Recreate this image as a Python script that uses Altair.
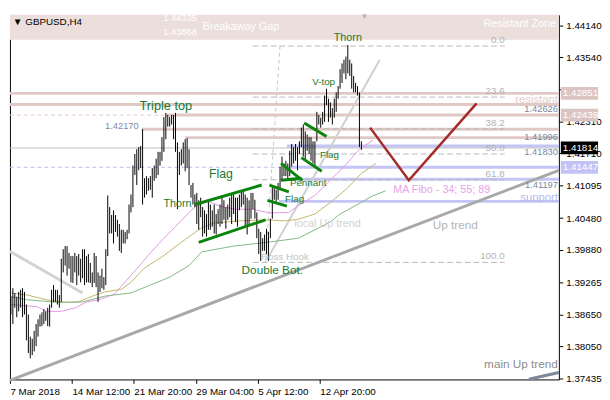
import altair as alt
import pandas as pd

W, H = 560, 372
FONT = "Liberation Sans"

# ---------------- data ----------------
bar_high = [
    1.3899, 1.3915, 1.3906, 1.3899, 1.3908, 1.3912, 1.3915, 1.3908, 1.3884, 1.3865,
    1.3823, 1.3819, 1.3834, 1.3847, 1.3856, 1.3865, 1.3869, 1.3875, 1.3871, 1.3878,
    1.3884, 1.3912, 1.3921, 1.3912, 1.3912, 1.3902, 1.3971, 1.3989, 1.3995, 1.3995,
    1.3982, 1.3976, 1.3976, 1.3982, 1.3976, 1.3980, 1.3971, 1.3989, 1.3989, 1.3976,
    1.3980, 1.3963, 1.3945, 1.3982, 1.3976, 1.3945, 1.3939, 1.3952, 1.3936, 1.3989,
    1.4091, 1.4069, 1.4054, 1.4063, 1.4054, 1.4045, 1.4037, 1.4026, 1.4026, 1.4022,
    1.4026, 1.4074, 1.4093, 1.4148, 1.4170, 1.4179, 1.4183, 1.4185, 1.4217, 1.4124,
    1.4128, 1.4124, 1.4128, 1.4143, 1.4148, 1.4161, 1.4174, 1.4174, 1.4202, 1.4240,
    1.4248, 1.4244, 1.4240, 1.4244, 1.4244, 1.4248, 1.4192, 1.4174, 1.4179, 1.4192,
    1.4198, 1.4200, 1.4179, 1.4111, 1.4115, 1.4093, 1.4096, 1.4082, 1.4087, 1.4069,
    1.4063, 1.4056, 1.4082, 1.4074, 1.4063, 1.4074, 1.4056, 1.4065, 1.4074, 1.4087,
    1.4082, 1.4069, 1.4074, 1.4087, 1.4093, 1.4093, 1.4087, 1.4087, 1.4093, 1.4100,
    1.4100, 1.4093, 1.4087, 1.4082, 1.4096, 1.4096, 1.4083, 1.4059, 1.4028, 1.4022,
    1.4010, 1.4017, 1.4028, 1.4022, 1.4047, 1.4109, 1.4109, 1.4102, 1.4115, 1.4146,
    1.4165, 1.4152, 1.4157, 1.4152, 1.4176, 1.4189, 1.4183, 1.4189, 1.4183, 1.4194,
    1.4220, 1.4226, 1.4213, 1.4207, 1.4202, 1.4202, 1.4194, 1.4194, 1.4250, 1.4244,
    1.4239, 1.4250, 1.4281, 1.4294, 1.4275, 1.4268, 1.4257, 1.4275, 1.4287, 1.4299,
    1.4331, 1.4342, 1.4349, 1.4355, 1.4377, 1.4349, 1.4342, 1.4318, 1.4305, 1.4299,
    1.4287, 1.4194,
]
bar_low = [
    1.3865, 1.3847, 1.3878, 1.3860, 1.3871, 1.3878, 1.3860, 1.3865, 1.3816, 1.3792,
    1.3782, 1.3788, 1.3795, 1.3805, 1.3823, 1.3842, 1.3843, 1.3847, 1.3853, 1.3843,
    1.3842, 1.3878, 1.3888, 1.3889, 1.3884, 1.3878, 1.3889, 1.3945, 1.3958, 1.3939,
    1.3952, 1.3926, 1.3925, 1.3945, 1.3921, 1.3939, 1.3926, 1.3934, 1.3921, 1.3926,
    1.3926, 1.3925, 1.3917, 1.3925, 1.3917, 1.3889, 1.3908, 1.3915, 1.3912, 1.3921,
    1.3976, 1.4019, 1.4019, 1.4000, 1.4022, 1.4013, 1.3986, 1.3982, 1.4000, 1.4000,
    1.4008, 1.4019, 1.4059, 1.4069, 1.4130, 1.4111, 1.4139, 1.4143, 1.4074, 1.4087,
    1.4093, 1.4100, 1.4102, 1.4087, 1.4119, 1.4124, 1.4130, 1.4148, 1.4157, 1.4174,
    1.4198, 1.4222, 1.4222, 1.4226, 1.4198, 1.4174, 1.4065, 1.4130, 1.4148, 1.4152,
    1.4137, 1.4143, 1.4111, 1.4087, 1.4074, 1.4069, 1.4037, 1.4026, 1.4050, 1.4013,
    1.4019, 1.4013, 1.4026, 1.4026, 1.4032, 1.4019, 1.4017, 1.4037, 1.4032, 1.4037,
    1.4045, 1.4028, 1.4045, 1.4050, 1.4037, 1.4056, 1.4041, 1.4032, 1.4063, 1.4069,
    1.4074, 1.4032, 1.4017, 1.4037, 1.4047, 1.4065, 1.4047, 1.4010, 1.3980, 1.3967,
    1.3986, 1.3986, 1.3980, 1.3967, 1.4010, 1.4047, 1.4083, 1.4078, 1.4083, 1.4102,
    1.4120, 1.4128, 1.4128, 1.4120, 1.4128, 1.4146, 1.4152, 1.4157, 1.4139, 1.4170,
    1.4183, 1.4165, 1.4157, 1.4176, 1.4170, 1.4157, 1.4152, 1.4146, 1.4194, 1.4226,
    1.4220, 1.4226, 1.4231, 1.4263, 1.4231, 1.4239, 1.4226, 1.4239, 1.4250, 1.4275,
    1.4294, 1.4305, 1.4323, 1.4312, 1.4323, 1.4318, 1.4294, 1.4287, 1.4287, 1.4281,
    1.4183, 1.4178,
]

# moving averages (bar index, price)
ma34_x = [0, 13.5, 18.5, 26, 33.5, 38.5, 47, 53.5, 58.5, 65, 72, 78.5, 85, 92, 96, 102,
          108.5, 116, 125, 133.5, 143.5, 151, 157, 163.5, 172, 180, 187]
ma34_y = [1.3884, 1.3880, 1.3871, 1.3871, 1.3878, 1.3888, 1.3895, 1.3904, 1.3925, 1.3952,
          1.3982, 1.4008, 1.4032, 1.4059, 1.4072, 1.4080, 1.4070, 1.4065, 1.4065, 1.4058,
          1.4059, 1.4078, 1.4091, 1.4115, 1.4146, 1.4179, 1.4196]
ma55_x = [0, 8.5, 18.5, 28.5, 35, 42, 48.5, 57, 62, 68.5, 78.5, 92, 98.5, 105, 118.5,
          132, 141, 148.5, 157, 165, 173.5, 181, 188.5]
ma55_y = [1.3906, 1.3902, 1.3893, 1.3888, 1.3889, 1.3900, 1.3908, 1.3913, 1.3926, 1.3952,
          1.3976, 1.4013, 1.4030, 1.4039, 1.4043, 1.4045, 1.4043, 1.4046, 1.4056, 1.4078,
          1.4104, 1.4133, 1.4152]
ma89_x = [0, 8.5, 25, 37, 48.5, 62, 72, 82, 92, 98.5, 115, 132, 148.5, 157, 165, 170,
          180, 186, 193.5]
ma89_y = [1.3899, 1.3893, 1.3888, 1.3889, 1.3900, 1.3906, 1.3921, 1.3936, 1.3958, 1.3984,
          1.3995, 1.4002, 1.4010, 1.4026, 1.4041, 1.4056, 1.4076, 1.4089, 1.4100]

# axes
x_ticks = [-0.5, 31.5, 63.5, 95.5, 127.5, 159.5]
x_labels = ["7 Mar 2018", "14 Mar 12:00", "21 Mar 20:00", "29 Mar 04:00", "5 Apr 12:00", "12 Apr 20:00"]
y_ticks = [1.44140, 1.43540, 1.42925, 1.42310, 1.41710, 1.41095, 1.40480, 1.39880,
           1.39265, 1.38650, 1.38050, 1.37435]
y_hidden = [1.42925]  # label covered by the price box in the reference

# zones / levels
gap_low, gap_high = 1.43868, 1.44335
current_price = 1.41814
pink_levels = [1.42851, 1.42640, 1.42439, 1.42170, 1.42010]
pink_start = [-0.5, -0.5, 80.0, 67.5, 90.0]
lav_levels = [1.41850, 1.41447, 1.41220, 1.40800]
lav_start = [142.5, 143.5, 143.5, 138.5]
level_end = 283.0
dashed_levels = [1.42439, 1.41447]
dashed_end = [80.0, 143.5]
dashed_colors = ["#e2cac6", "#bcbcf2"]

fib_names = ["0.0", "23.6", "38.2", "50.0", "61.8", "100.0"]
fib_prices = [1.43750, 1.42780, 1.42180, 1.41700, 1.41210, 1.39640]
fib_x0, fib_x1 = 125.0, 255.0

# trend lines (x, y, x2, y2)
trend_x = [-0.5, 267.5, -0.5, 132.5]
trend_y = [1.3740, 1.3742, 1.3985, 1.3971]
trend_x2 = [283.0, 283.0, 37.0, 190.5]
trend_y2 = [1.4139, 1.3755, 1.3906, 1.4349]
trend_colors = ["#a8a8a8", "#7a8898", "#d2d2d2", "#d0d0d0"]
trend_widths = [3, 3, 3, 2]

# chart-pattern lines (flags, pennant)
pat_x = [95, 97, 133.5, 132.5, 139.5, 139.5, 151.5, 150]
pat_y = [1.4074, 1.4002, 1.4111, 1.4082, 1.4152, 1.4120, 1.4229, 1.4163]
pat_x2 = [129.5, 131.5, 143.5, 142.5, 150.5, 150.0, 163, 160.5]
pat_y2 = [1.4111, 1.4045, 1.4098, 1.4071, 1.4120, 1.4124, 1.4203, 1.4137]

# projection "V"
proj_x = [185.5, 205.5, 240.5]
proj_y = [1.4220, 1.4120, 1.4266]

# boxes on price axis
box_prices = [1.42851, 1.42439, 1.41814, 1.41447]
box_colors = ["#dcc5c1", "#dcc5c1", "#000000", "#c2c2f6"]

GREEN_T = "#17792f"
SLATE = "#7a8aa0"
center_t = ["Triple top", "Thorn", "Flag", "Double Bot.", "Ross Hook", "Flag", "Pennant",
            "Flag", "V-top", "Thorn", "local  Up trend", "Up trend", "\u25bc"]
center_x = [80, 86, 108.5, 135, 141.5, 146.5, 153.5, 164.5, 161.5, 174, 163.5, 229.5, 182.5]
center_y = [1.4261, 1.4074, 1.4131, 1.3950, 1.3974, 1.4085, 1.4115, 1.4168, 1.4307, 1.4390,
            1.4037, 1.4034, 1.4431]
center_c = [GREEN_T, GREEN_T, GREEN_T, GREEN_T, "#c4c4c4", GREEN_T, GREEN_T, GREEN_T,
            GREEN_T, GREEN_T, "#d2d2d2", "#b4b4b4", "#b4b4b4"]
center_s = [13, 11, 12.5, 12, 10, 10, 10, 10, 10, 11, 11, 12, 8]

left_t = ["MA Fibo - 34; 55; 89", "Breakaway Gap", "\u25bc GBPUSD,H4"]
left_x = [197.5, 99, 1]
left_y = [1.4102, 1.4412, 1.4421]
left_c = ["#e8a2e8", "#ffffff", "#000000"]
left_s = [11, 11, 10]

right_t = ["1.44335", "1.43868", "Resistant Zone", "1.42170", "resistant", "1.42626",
           "1.41996", "1.41830", "1.41197", "support", "main Up trend"]
right_x = [96, 96, 281.5, 66, 282.5, 282.5, 282.5, 282.5, 282.5, 282.5, 282.5]
right_y = [1.4429, 1.4401, 1.4416, 1.4223, 1.4273, 1.4255, 1.4202, 1.4174, 1.4111,
           1.4087, 1.3771]
right_c = ["#ffffff", "#ffffff", "#ffffff", SLATE, "#e6cccc", SLATE, SLATE, SLATE, SLATE,
           "#b8b8f0", "#8c8c8c"]
right_s = [9.5, 9.5, 11, 9.5, 11.5, 9.5, 9.5, 9.5, 9.5, 11.5, 12]

# ---------------- scales / axes ----------------
x_scale = alt.Scale(domain=[-0.5, 283.0], nice=False, zero=False)
y_scale = alt.Scale(domain=[1.37417, 1.44343], nice=False, zero=False)

label_expr = ("[" + ",".join(f"'{s}'" for s in x_labels) + "][indexof(["
              + ",".join(str(v) for v in x_ticks) + "], datum.value)]")
y_label_expr = ("indexof([" + ",".join(str(v) for v in y_hidden)
                + "], datum.value) >= 0 ? '' : format(datum.value, '.5f')")

x_axis = alt.Axis(values=x_ticks, labelExpr=label_expr, labelAlign="left", labelPadding=3,
                  tickSize=4, tickColor="black", domainColor="black", labelColor="black",
                  labelFont=FONT, labelFontSize=10, grid=False, title=None,
                  labelFlush=False, labelOverlap=False)
y_axis = alt.Axis(orient="right", values=y_ticks, labelExpr=y_label_expr, tickSize=4,
                  tickColor="black", domainColor="black", labelColor="black",
                  labelFont=FONT, labelFontSize=10, grid=False, title=None,
                  labelOverlap=False, labelPadding=3)


def X(f):
    return alt.X(f, type="quantitative", scale=x_scale, axis=x_axis)


def Y(f):
    return alt.Y(f, type="quantitative", scale=y_scale, axis=y_axis)


# ---------------- layers ----------------
band = alt.Chart(pd.DataFrame({"y": [gap_low]})).mark_rect(color="#ecdedb").encode(
    x=alt.value(0), x2=alt.value(W), y=Y("y"), y2=alt.value(0))

left_border = alt.Chart(pd.DataFrame({"y": [gap_low]})).mark_rule(
    color="black", strokeWidth=1).encode(x=alt.value(0.5), y=Y("y"), y2=alt.value(H))

lev_rows = []
for p, s in zip(pink_levels, pink_start):
    lev_rows.append({"x": s, "x2": level_end, "y": p, "c": "#e0c8c4", "w": 3})
for p, s in zip(lav_levels, lav_start):
    lev_rows.append({"x": s, "x2": level_end, "y": p, "c": "#c4c4f6", "w": 3})
lev_rows.append({"x": -0.5, "x2": level_end, "y": current_price, "c": "#bdbdbd", "w": 1})
levels = alt.Chart(pd.DataFrame(lev_rows)).mark_rule().encode(
    x=X("x"), x2="x2", y=Y("y"),
    color=alt.Color("c:N", scale=None), strokeWidth=alt.StrokeWidth("w:Q", scale=None))

dl = pd.DataFrame({"y": dashed_levels, "x2": dashed_end, "c": dashed_colors})
dl["x"] = -0.5
dashed = alt.Chart(dl).mark_rule(strokeDash=[4, 3], strokeWidth=1).encode(
    x=X("x"), x2="x2", y=Y("y"), color=alt.Color("c:N", scale=None))

fib_df = pd.DataFrame({"y": fib_prices, "t": fib_names})
fib_df["x"] = fib_x0
fib_df["x2"] = fib_x1
fib_lines = alt.Chart(fib_df).mark_rule(strokeDash=[6, 3], strokeWidth=1, color="#b8b8b8").encode(
    x=X("x"), x2="x2", y=Y("y"))
fib_text = alt.Chart(fib_df).mark_text(align="right", baseline="bottom", dy=-1, font=FONT,
                                       fontSize=10, color="#b4b4b4").encode(
    x=X("x2"), y=Y("y"), text="t:N")
fib_diag = alt.Chart(pd.DataFrame({"x": [139.0], "y": [1.4375], "x2": [131.5], "y2": [1.3965]})
                     ).mark_rule(strokeDash=[4, 3], strokeWidth=1, color="#c8c8c8").encode(
    x=X("x"), x2="x2", y=Y("y"), y2="y2")

trend = alt.Chart(pd.DataFrame({"x": trend_x, "y": trend_y, "x2": trend_x2, "y2": trend_y2,
                                "c": trend_colors, "w": trend_widths})).mark_rule().encode(
    x=X("x"), x2="x2", y=Y("y"), y2="y2",
    color=alt.Color("c:N", scale=None), strokeWidth=alt.StrokeWidth("w:Q", scale=None))

ma_rows = []
for name, xs, ys, col in [("34", ma34_x, ma34_y, "#e596e5"), ("55", ma55_x, ma55_y, "#c2b56a"),
                          ("89", ma89_x, ma89_y, "#82b882")]:
    for a, b in zip(xs, ys):
        ma_rows.append({"i": a, "p": b, "s": name, "c": col})
mas = alt.Chart(pd.DataFrame(ma_rows)).mark_line(strokeWidth=1).encode(
    x=X("i"), y=Y("p"), detail="s:N", color=alt.Color("c:N", scale=None))

bars_df = pd.DataFrame({"i": list(range(len(bar_high))), "hi": bar_high, "lo": bar_low})
bars = alt.Chart(bars_df).mark_rule(color="black", strokeWidth=1).encode(
    x=X("i"), y=Y("lo"), y2="hi")

patterns = alt.Chart(pd.DataFrame({"x": pat_x, "y": pat_y, "x2": pat_x2, "y2": pat_y2})
                     ).mark_rule(color="#0a840a", strokeWidth=3).encode(
    x=X("x"), x2="x2", y=Y("y"), y2="y2")

proj = alt.Chart(pd.DataFrame({"x": proj_x, "y": proj_y})).mark_line(
    color="#a52a2a", strokeWidth=2.5).encode(x=X("x"), y=Y("y"))


def texts(t, xs, ys, cs, ss, align):
    df = pd.DataFrame({"t": t, "x": xs, "y": ys, "c": cs, "s": ss})
    return alt.Chart(df).mark_text(align=align, baseline="middle", font=FONT).encode(
        x=X("x"), y=Y("y"), text="t:N", color=alt.Color("c:N", scale=None),
        size=alt.Size("s:Q", scale=None))


t_center = texts(center_t, center_x, center_y, center_c, center_s, "center")
t_left = texts(left_t, left_x, left_y, left_c, left_s, "left")
t_right = texts(right_t, right_x, right_y, right_c, right_s, "right")

box_df = pd.DataFrame({"p": box_prices, "c": box_colors,
                       "lbl": [f"{v:.5f}" for v in box_prices]})
boxes = alt.Chart(box_df).mark_tick(thickness=13, size=38, opacity=1).encode(
    y=Y("p"), x=alt.value(W + 21), color=alt.Color("c:N", scale=None))
box_text = alt.Chart(box_df).mark_text(align="left", baseline="middle", color="white",
                                       font=FONT, fontSize=10).encode(
    y=Y("p"), x=alt.value(W + 4), text="lbl:N")

chart = alt.layer(
    band, left_border, levels, dashed, fib_lines, fib_text, fib_diag, trend, mas, bars,
    patterns, proj, t_center, t_left, t_right, boxes, box_text
).properties(
    width=W, height=H, padding={"left": 0, "top": 0, "right": 0, "bottom": 0},
    background="white"
).configure_view(stroke=None)

chart.save("out.html", embed_options={"renderer": "svg", "actions": False})
